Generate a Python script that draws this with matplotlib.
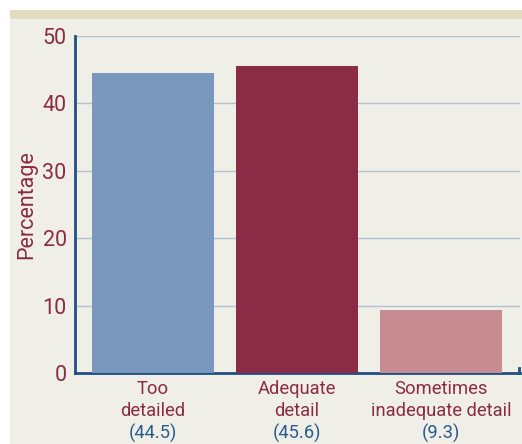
import matplotlib.pyplot as plt
from matplotlib.patches import Rectangle
import matplotlib.transforms as mtransforms

categories = [["Too", "detailed"], ["Adequate", "detail"], ["Sometimes", "inadequate detail"]]
values = [44.5, 45.6, 9.3]
value_labels = ["(44.5)", "(45.6)", "(9.3)"]
colors = ["#7a97bd", "#8b2b45", "#c78c92"]

red = "#8b2b45"
blue = "#2a5d8f"
plt.rcParams['font.family'] = ['Roboto', 'DejaVu Sans']

fig = plt.figure(figsize=(5.22, 4.44), dpi=100)
fig.patch.set_facecolor("white")
# panel background and top band
fig.add_artist(Rectangle((10/522, 0), 512/522, 434/444, transform=fig.transFigure,
                         facecolor="#efeee7", edgecolor="none", zorder=-10))
fig.add_artist(Rectangle((10/522, 425/444), 512/522, 9/444, transform=fig.transFigure,
                         facecolor="#e2dcc0", edgecolor="none", zorder=-9))

ax = fig.add_axes([75/522, 71/444, 445/522, 337/444])
ax.set_facecolor("none")
x = range(len(values))
ax.bar(x, values, width=0.85, color=colors, zorder=3)
ax.set_xlim(-0.54, 2.55)
ax.set_ylim(0, 50)
ax.set_yticks(range(0, 51, 10))
ax.yaxis.grid(True, color="#b3c2d3", linewidth=1.0, zorder=0)
ax.tick_params(axis="y", length=0, pad=6, labelsize=15.5, labelcolor=red)
ax.tick_params(axis="x", length=0, labelbottom=False)
for s in ["top", "right"]:
    ax.spines[s].set_visible(False)
for s in ["left", "bottom"]:
    ax.spines[s].set_color("#1f4f85")
    ax.spines[s].set_linewidth(2)
# small tick at right end of bottom axis
ax.plot([2.545, 2.545], [0, 0.8], color="#1f4f85", lw=2, clip_on=False, zorder=4)

ax.set_ylabel("Percentage", color=red, fontsize=15.5, labelpad=4)

# x labels: x in data coords, y in figure coords
trans = mtransforms.blended_transform_factory(ax.transData, fig.transFigure)
for i, (lines, v) in enumerate(zip(categories, value_labels)):
    for j, line in enumerate(lines):
        ax.text(i, (444 - 389 - 22 * j) / 444, line, ha="center", va="center",
                color=red, fontsize=13.2, transform=trans)
    ax.text(i, (444 - 433) / 444, v, ha="center", va="center",
            color=blue, fontsize=13.2, transform=trans)

fig.savefig("out.png", dpi=100)
